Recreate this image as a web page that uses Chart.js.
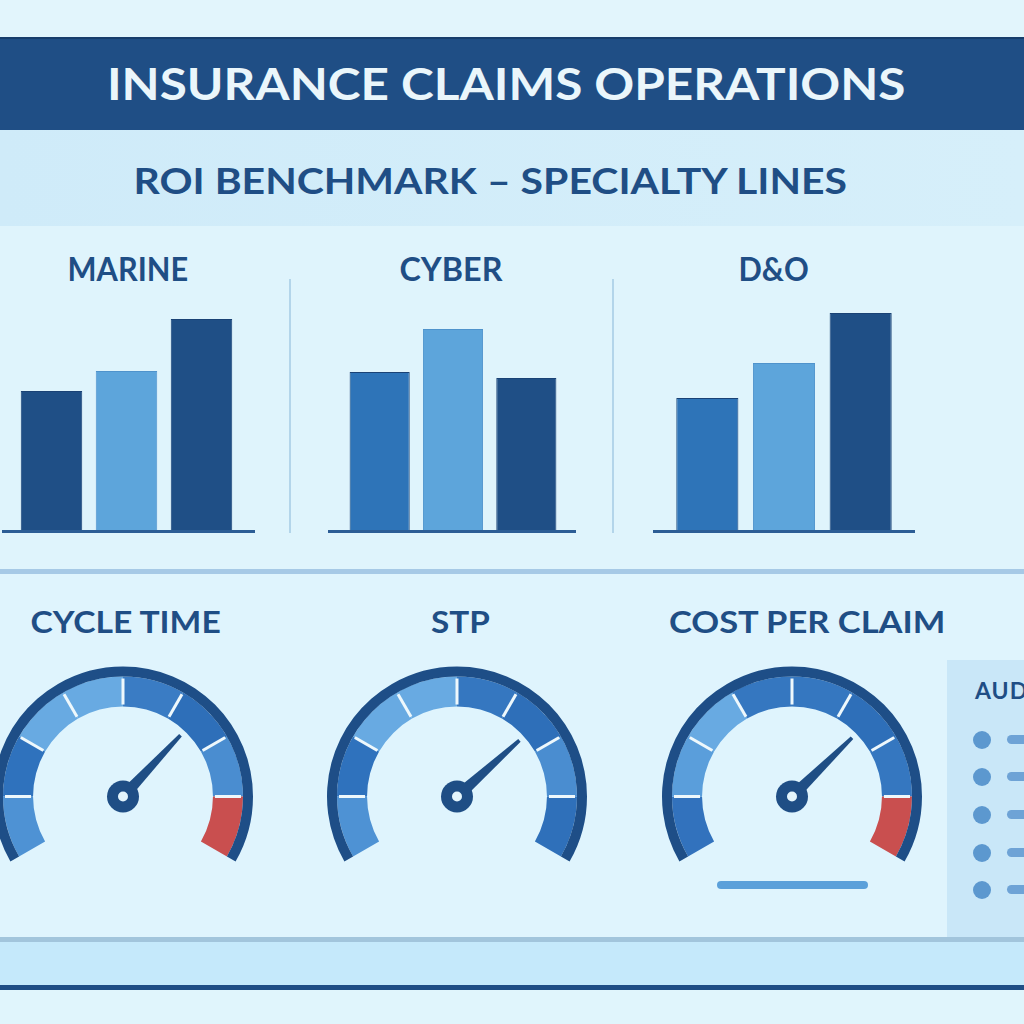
<!DOCTYPE html>
<html>
<head>
<meta charset="utf-8">
<title>Insurance Claims Operations</title>
<script src="https://cdn.jsdelivr.net/npm/chart.js@4.4.1/dist/chart.umd.min.js"></script>
<style>
  html, body { margin: 0; padding: 0; }
  body { width: 1024px; height: 1024px; overflow: hidden; background: #e1f5fc; font-family: Lato, "Open Sans", sans-serif; }
  #board { position: relative; width: 1024px; height: 1024px; overflow: hidden; }
  .band { position: absolute; left: 0; width: 1024px; }
  .txt { position: absolute; white-space: nowrap; font-weight: 700; color: #1f4e85; line-height: 1; transform-origin: center center; }
  canvas { position: absolute; }
  .vline { position: absolute; width: 2px; background: #b3d5ea; }
  .dot { position: absolute; width: 18px; height: 18px; border-radius: 50%; background: #5c98cf; }
  .dash { position: absolute; width: 40px; height: 9px; border-radius: 5px; background: #6ea3d6; }
</style>
</head>
<body>
<div id="board">
  <div class="band" style="top:0;height:37px;background:#e2f5fc"></div>
  <div class="band" style="top:37px;height:92px;background:#1f4e85;border-top:2px solid #173d6b"></div>
  <div class="band" style="top:130px;height:96px;background:linear-gradient(90deg,#cfebf9,#d6effa)"></div>
  <div class="band" style="top:226px;height:344px;background:#dff4fc"></div>
  <div class="band" style="top:569px;height:5px;background:#a6c9e6"></div>
  <div class="band" style="top:574px;height:364px;background:#dff4fd"></div>
  <div style="position:absolute;left:947px;top:660px;width:77px;height:278px;background:#c9e7f8"></div>
  <div class="band" style="top:937px;height:5px;background:#a2c5dc"></div>
  <div class="band" style="top:942px;height:43px;background:#c5e9fb"></div>
  <div class="band" style="top:985px;height:5px;background:#1f4e85"></div>
  <div class="band" style="top:990px;height:34px;background:#e0f5fc"></div>

  <div class="txt fit" style="font-size:44px;color:#eaf6fb" data-cx="506" data-cy="84" data-w="798">INSURANCE CLAIMS OPERATIONS</div>
  <div class="txt fit" style="font-size:37px" data-cx="490" data-cy="180" data-w="714">ROI BENCHMARK – SPECIALTY LINES</div>

  <div class="txt fit" style="font-size:32px" data-cx="128" data-cy="270" data-w="121">MARINE</div>
  <div class="txt fit" style="font-size:32px" data-cx="451" data-cy="270" data-w="103">CYBER</div>
  <div class="txt fit" style="font-size:32px" data-cx="773" data-cy="270" data-w="70">D&amp;O</div>

  <div class="vline" style="left:289px;top:279px;height:254px"></div>
  <div class="vline" style="left:612px;top:279px;height:254px"></div>

  <canvas id="barMarine" width="253" height="255" style="left:2px;top:280px"></canvas>
  <canvas id="barCyber" width="248" height="255" style="left:328px;top:280px"></canvas>
  <canvas id="barDno" width="262" height="255" style="left:653px;top:280px"></canvas>

  <div class="txt fit" style="font-size:31px" data-cx="125" data-cy="622" data-w="190">CYCLE TIME</div>
  <div class="txt fit" style="font-size:31px" data-cx="460" data-cy="622" data-w="59">STP</div>
  <div class="txt fit" style="font-size:31px" data-cx="807" data-cy="622" data-w="276">COST PER CLAIM</div>

  <canvas id="gauge0" width="300" height="240" style="left:-27px;top:644px"></canvas>
  <canvas id="gauge1" width="300" height="240" style="left:307px;top:644px"></canvas>
  <canvas id="gauge2" width="300" height="240" style="left:642px;top:644px"></canvas>

  <div style="position:absolute;left:717px;top:881px;width:151px;height:8px;border-radius:4px;background:#5ba0da"></div>

  <div class="txt" style="font-size:23px;letter-spacing:1px;left:975px;top:679px">AUDIT</div>
  <div class="dot" style="left:973px;top:731px"></div><div class="dash" style="left:1007px;top:735px"></div>
  <div class="dot" style="left:973px;top:768px"></div><div class="dash" style="left:1007px;top:772px"></div>
  <div class="dot" style="left:973px;top:806px"></div><div class="dash" style="left:1007px;top:810px"></div>
  <div class="dot" style="left:973px;top:844px"></div><div class="dash" style="left:1007px;top:848px"></div>
  <div class="dot" style="left:973px;top:881px"></div><div class="dash" style="left:1007px;top:885px"></div>
</div>

<script>
// ROI benchmark bars (3 bars per specialty line)
const benchCategories = ["A", "B", "C"];
const marineRoi = [13.9, 15.9, 21.1];
const cyberRoi = [15.8, 20.1, 15.2];
const dnoRoi = [13.2, 16.7, 21.7];
const roiMax = 25;

// gauges: needle position in % of the dial, 8 equal bands
const gaugeNames = ["CYCLE TIME", "STP", "COST PER CLAIM"];
const gaugeValues = [68, 70, 69];
const dialBands = [1, 1, 1, 1, 1, 1, 1, 1];

const DARK = "#1f4f86";
const MID = "#2e74b8";
const LIGHT = "#5da5db";

const bandColors = [
  ["#4e92d4", "#2f72bd", "#68aae2", "#68aae2", "#3a7cc4", "#2e6fb9", "#4a8dd0", "#c94f4f"],
  ["#4e92d4", "#2f72bd", "#68aae2", "#68aae2", "#3577c0", "#2e6fb9", "#4a8dd0", "#2f70ba"],
  ["#3272bd", "#5a9edb", "#68aae2", "#3577c0", "#3577c0", "#2e6fb9", "#3577c0", "#c94f4f"],
];

function start() {
  fitTexts();
  designBars("barMarine", marineRoi, [DARK, LIGHT, DARK], 12, 16, 0.82);
  designBars("barCyber", cyberRoi, [MID, LIGHT, DARK], 15, 13, 0.82);
  designBars("barDno", dnoRoi, [MID, LIGHT, DARK], 16, 16, 0.81);
  gaugeValues.forEach((v, i) => designGauge(i));
}

// place text by cap centre and stretch to the width seen in the picture
function fitTexts() {
  document.querySelectorAll(".fit").forEach((el) => {
    const fs = parseFloat(el.style.fontSize);
    const w0 = el.offsetWidth;
    const cx = +el.dataset.cx, cy = +el.dataset.cy, w = +el.dataset.w;
    el.style.left = cx - w0 / 2 + "px";
    el.style.top = cy - fs * 0.527 + "px";
    el.style.transform = "scaleX(" + (w / w0).toFixed(3) + ")";
  });
}

const baseLine = {
  id: "baseLine",
  afterDatasetsDraw(chart) {
    const c = chart.ctx;
    const y = chart.scales.y.getPixelForValue(0) + 1.5;
    c.save();
    c.strokeStyle = "#2c5d95";
    c.lineWidth = 3;
    c.beginPath();
    c.moveTo(0, y);
    c.lineTo(chart.width, y);
    c.stroke();
    c.restore();
  },
};

function designBars(id, values, colors, padL, padR, pct) {
  const ctx = document.getElementById(id).getContext("2d");
  return new Chart(ctx, {
    type: "bar",
    data: {
      labels: benchCategories,
      datasets: [
        {
          data: values,
          backgroundColor: colors,
          borderColor: colors.map((c) => (c === LIGHT ? "#4f93cc" : "#1a4275")),
          borderWidth: 1,
          barPercentage: pct,
          categoryPercentage: 1,
        },
      ],
    },
    options: {
      responsive: false,
      animation: false,
      layout: { padding: { left: padL, right: padR, top: 0, bottom: 5 } },
      scales: {
        x: { display: false },
        y: { display: false, min: 0, max: roiMax },
      },
      plugins: { legend: { display: false }, tooltip: { enabled: false } },
    },
    plugins: [baseLine],
  });
}

function designGauge(i) {
  const needle = {
    id: "needle",
    afterDatasetsDraw(chart) {
      const arcs = chart.getDatasetMeta(1).data;
      const c = chart.ctx;
      const cx = arcs[0].x, cy = arcs[0].y;
      const rIn = arcs[0].innerRadius, rOut = arcs[0].outerRadius;
      c.save();
      // white tick marks between bands
      c.strokeStyle = "#eef8fc";
      c.lineWidth = 3;
      for (let k = 1; k < arcs.length; k++) {
        const a = arcs[k].startAngle;
        c.beginPath();
        c.moveTo(cx + Math.cos(a) * (rIn + 2), cy + Math.sin(a) * (rIn + 2));
        c.lineTo(cx + Math.cos(a) * (rOut - 2), cy + Math.sin(a) * (rOut - 2));
        c.stroke();
      }
      const a0 = arcs[0].startAngle;
      const a1 = arcs[arcs.length - 1].endAngle;
      const a = a0 + ((a1 - a0) * gaugeValues[i]) / 100;
      const len = 84;
      const px = -Math.sin(a), py = Math.cos(a);
      c.fillStyle = "#1f4e85";
      c.beginPath();
      c.moveTo(cx + px * 6, cy + py * 6);
      c.lineTo(cx + Math.cos(a) * len + px * 1.8, cy + Math.sin(a) * len + py * 1.8);
      c.lineTo(cx + Math.cos(a) * len - px * 1.8, cy + Math.sin(a) * len - py * 1.8);
      c.lineTo(cx - px * 6, cy - py * 6);
      c.closePath();
      c.fill();
      c.beginPath();
      c.arc(cx, cy, 16, 0, Math.PI * 2);
      c.fill();
      c.fillStyle = "#e4f5fc";
      c.beginPath();
      c.arc(cx, cy, 5, 0, Math.PI * 2);
      c.fill();
      c.restore();
    },
  };
  const ctx = document.getElementById("gauge" + i).getContext("2d");
  return new Chart(ctx, {
    type: "doughnut",
    data: {
      labels: dialBands.map((b, k) => "band " + (k + 1)),
      datasets: [
        { data: [1], backgroundColor: ["#1e4e87"], borderWidth: 0, weight: 1 },
        { data: dialBands, backgroundColor: bandColors[i], borderWidth: 0, weight: 3 },
      ],
    },
    options: {
      responsive: false,
      animation: false,
      rotation: -120,
      circumference: 240,
      cutout: "69.2%",
      radius: 130,
      plugins: { legend: { display: false }, tooltip: { enabled: false } },
    },
    plugins: [needle],
  });
}

start();
</script>
</body>
</html>
